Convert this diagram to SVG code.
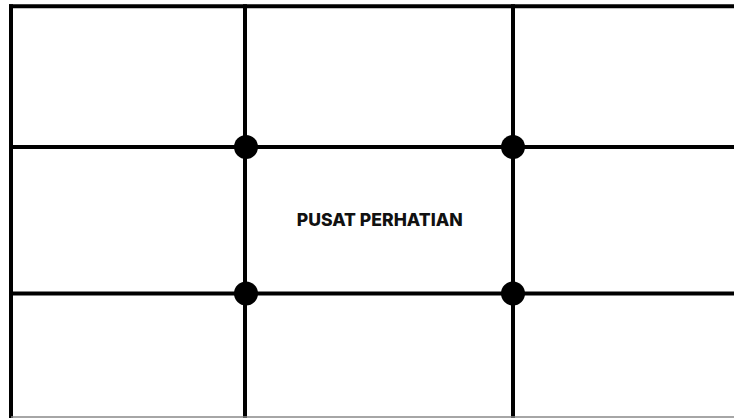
<svg xmlns="http://www.w3.org/2000/svg" width="734" height="418" viewBox="0 0 734 418">
<style>
.ln{stroke:#000;stroke-width:4;fill:none}
.dot{fill:#000}
.lbl{font-family:Inter,"Open Sans","Liberation Sans",sans-serif;font-weight:800;font-size:17.5px;fill:#111}
</style>
<rect x="0" y="0" width="734" height="418" fill="#fff"/>
<g id="connectors">
<line class="ln" x1="9" y1="6.3" x2="734" y2="6.3"/>
<line class="ln" x1="11" y1="4.3" x2="11" y2="418"/>
<line class="ln" x1="11" y1="147" x2="734" y2="147"/>
<line class="ln" x1="11" y1="293.5" x2="734" y2="293.5"/>
<line class="ln" x1="245" y1="4.3" x2="245" y2="418"/>
<line class="ln" x1="513" y1="4.3" x2="513" y2="418"/>
<line x1="11" y1="417" x2="734" y2="417" stroke="#888" stroke-width="1.5"/>
</g>
<g id="p1"><circle class="dot" cx="246" cy="147" r="12"/></g>
<g id="p2"><circle class="dot" cx="513" cy="147" r="12"/></g>
<g id="p3"><circle class="dot" cx="246" cy="293.5" r="12"/></g>
<g id="p4"><circle class="dot" cx="513" cy="293.5" r="12"/></g>
<g id="label"><text class="lbl" x="296.7" y="226" textLength="166" lengthAdjust="spacingAndGlyphs">PUSAT PERHATIAN</text></g>
</svg>
